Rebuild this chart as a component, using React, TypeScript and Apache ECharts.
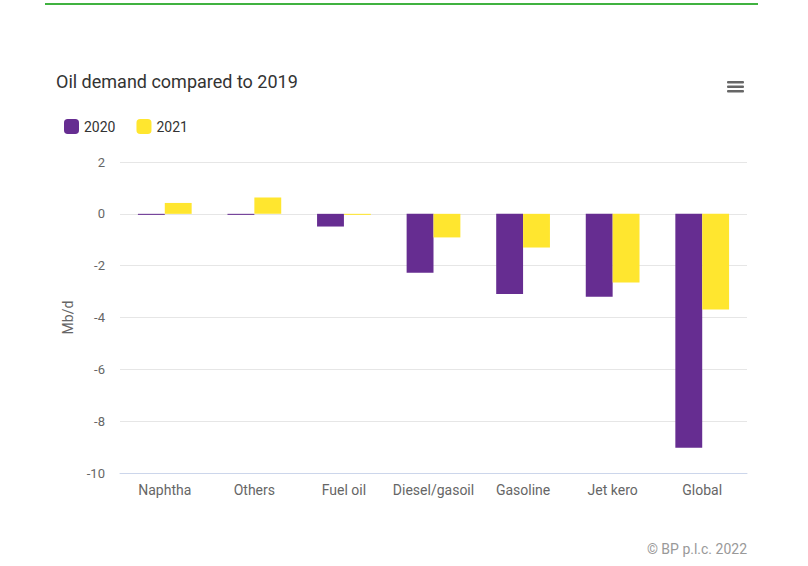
import React, { useEffect, useRef } from "react";
import * as echarts from "echarts";

const categories = ["Naphtha", "Others", "Fuel oil", "Diesel/gasoil", "Gasoline", "Jet kero", "Global"];
const values2020 = [-0.04, -0.04, -0.49, -2.27, -3.09, -3.2, -9.03];
const values2021 = [0.42, 0.63, -0.04, -0.91, -1.3, -2.65, -3.69];
const yTicks = { min: -10, max: 2, interval: 2 };

export default function App() {
  const ref = useRef<HTMLDivElement>(null);
  useEffect(() => {
    const chart = echarts.init(ref.current!, null, { renderer: "svg" });
    const font = "Roboto, 'Noto Sans', sans-serif";
    chart.setOption({
      animation: false,
      backgroundColor: "#ffffff",
      textStyle: { fontFamily: font },
      title: {
        text: "Oil demand compared to 2019",
        left: 51,
        top: 67,
        textStyle: { fontSize: 18, fontWeight: "normal", color: "#333333", fontFamily: font },
      },
      legend: {
        left: 59,
        top: 114,
        icon: "roundRect",
        itemWidth: 15,
        itemHeight: 15,
        itemGap: 21,
        textStyle: { fontSize: 14, color: "#333333", fontFamily: font },
        data: ["2020", "2021"],
      },
      grid: { left: 120, right: 61, top: 162, bottom: 93, containLabel: false },
      xAxis: {
        type: "category",
        data: categories,
        axisLine: { show: true, onZero: false, lineStyle: { color: "#ccd6eb", width: 1 } },
        axisTick: { show: false },
        axisLabel: { fontSize: 14, color: "#666666", margin: 10, interval: 0, fontFamily: font },
      },
      yAxis: {
        type: "value",
        min: yTicks.min,
        max: yTicks.max,
        interval: yTicks.interval,
        name: "Mb/d",
        nameLocation: "middle",
        nameGap: 45,
        nameTextStyle: { fontSize: 14, color: "#666666", fontFamily: font },
        axisLine: { show: false },
        axisTick: { show: false },
        axisLabel: { fontSize: 13, color: "#666666", margin: 15, fontFamily: font },
        splitLine: { lineStyle: { color: "#e6e6e6", width: 1 } },
      },
      series: [
        {
          name: "2020",
          type: "bar",
          data: values2020,
          itemStyle: { color: "#662d91" },
          barGap: "0%",
          barCategoryGap: "40%",
        },
        {
          name: "2021",
          type: "bar",
          data: values2021,
          itemStyle: { color: "#ffe62f" },
          barGap: "0%",
          barCategoryGap: "40%",
        },
      ],
      graphic: [
        { type: "line", shape: { x1: 45, y1: 4, x2: 758, y2: 4 }, style: { stroke: "#009900", lineWidth: 1.5 } },
        { type: "rect", shape: { x: 727, y: 81, width: 17, height: 2.5, r: 1 }, style: { fill: "#666666" } },
        { type: "rect", shape: { x: 727, y: 85.5, width: 17, height: 2.5, r: 1 }, style: { fill: "#666666" } },
        { type: "rect", shape: { x: 727, y: 90, width: 17, height: 2.5, r: 1 }, style: { fill: "#666666" } },
        {
          type: "text",
          right: 61,
          top: 542,
          style: { text: "© BP p.l.c. 2022", fontSize: 14, fill: "#999999", fontFamily: font },
        },
      ],
    });
    return () => chart.dispose();
  }, []);
  return <div ref={ref} style={{ position: "fixed", left: 0, top: 0, width: 808, height: 566 }} />;
}
